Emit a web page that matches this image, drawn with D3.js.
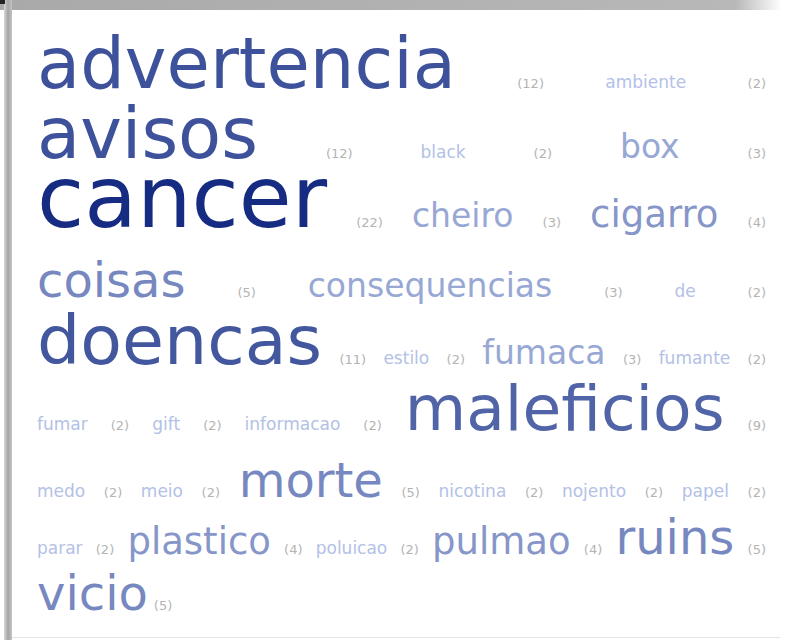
<!doctype html>
<html>
  <head>
    <script src="https://cdnjs.cloudflare.com/ajax/libs/d3/7.8.5/d3.min.js"></script>
    <style>
      body { margin: 0; background: #fff; }
      text { font-family: "Lucida Grande", "DejaVu Sans", sans-serif; }
    </style>
  </head>
  <body>
    <script>
        // tag cloud: words and how often each one was cited
        var words = ["advertencia", "ambiente", "avisos", "black", "box", "cancer", "cheiro", "cigarro",
                     "coisas", "consequencias", "de", "doencas", "estilo", "fumaca", "fumante", "fumar",
                     "gift", "informacao", "maleficios", "medo", "meio", "morte", "nicotina", "nojento",
                     "papel", "parar", "plastico", "poluicao", "pulmao", "ruins", "vicio"];
        var counts = [12, 2, 12, 2, 3, 22, 3, 4,
                      5, 3, 2, 11, 2, 3, 2, 2,
                      2, 2, 9, 2, 2, 5, 2, 2,
                      2, 2, 4, 2, 4, 5, 5];

        var width = 785, height = 644;
        var left = 37, right = 766, W = right - left;
        var inner = 6, gap = 19;

        var svg = d3.select("body").append("svg")
            .attr("width", width)
            .attr("height", height);

        var defs = svg.append("defs");
        var topGrad = defs.append("linearGradient").attr("id", "topbar");
        topGrad.append("stop").attr("offset", "0%").attr("stop-color", "#a9a9a9");
        topGrad.append("stop").attr("offset", "94%").attr("stop-color", "#b8b8b8");
        topGrad.append("stop").attr("offset", "100%").attr("stop-color", "#ffffff");
        var leftGrad = defs.append("linearGradient").attr("id", "leftbar");
        leftGrad.append("stop").attr("offset", "0%").attr("stop-color", "#d8d8d8");
        leftGrad.append("stop").attr("offset", "50%").attr("stop-color", "#a4a4a4");
        leftGrad.append("stop").attr("offset", "100%").attr("stop-color", "#c4c4c4");

        svg.append("rect").attr("width", width).attr("height", height).attr("fill", "#fff");
        // frame of the screenshot
        svg.append("rect").attr("x", 0).attr("y", 0).attr("width", 782).attr("height", 10).attr("fill", "url(#topbar)");
        svg.append("rect").attr("x", 4).attr("y", 0).attr("width", 8).attr("height", 640).attr("fill", "url(#leftbar)");
        svg.append("rect").attr("x", 0).attr("y", 0).attr("width", 5).attr("height", 4).attr("fill", "#222");
        svg.append("line").attr("x1", 12).attr("x2", 780).attr("y1", 637.5).attr("y2", 637.5)
            .attr("stroke", "#e4e4e4");

        var size = d3.scaleLog().domain([2, 3, 4, 5, 22]).range([17, 33, 37, 48, 86]);
        var color = d3.scaleLog().domain([2, 22]).range(["#b3c1e6", "#162c82"])
            .interpolate(d3.interpolateRgb);

        var g = svg.append("g");
        var items = words.map(function(w, i) {
            var t = g.append("text").text(w)
                .attr("font-size", size(counts[i]))
                .attr("fill", color(counts[i]));
            var c = g.append("text").text("(" + counts[i] + ")")
                .attr("font-size", 13)
                .attr("fill", "#b4b4b4");
            return {t: t, c: c, tw: t.node().getComputedTextLength(), cw: c.node().getComputedTextLength()};
        });

        // greedy line breaking, word and its count kept together
        var rows = [], cur = [], curW = 0;
        items.forEach(function(it) {
            var u = it.tw + inner + it.cw;
            if (cur.length && curW + gap + u > W) {
                rows.push(cur); cur = []; curW = 0;
            }
            curW += (cur.length ? gap : 0) + u;
            cur.push(it);
        });
        rows.push(cur);

        // baselines get a little closer toward the bottom, as in the photo
        var y = d3.scaleLinear().domain([0, 3, 6, 8]).range([88, 297, 497, 610]);

        rows.forEach(function(row, r) {
            var last = r === rows.length - 1;
            var toks = [];
            row.forEach(function(it) {
                toks.push({sel: it.t, w: it.tw});
                toks.push({sel: it.c, w: it.cw});
            });
            var sum = d3.sum(toks, function(d) { return d.w; });
            var sp = (W - sum) / (toks.length - 1);
            var x = left;
            toks.forEach(function(tk, k) {
                tk.sel.attr("x", x).attr("y", y(r));
                x += tk.w + (last ? (k % 2 === 0 ? inner : gap) : sp);
            });
        });
    </script>
  </body>
</html>
